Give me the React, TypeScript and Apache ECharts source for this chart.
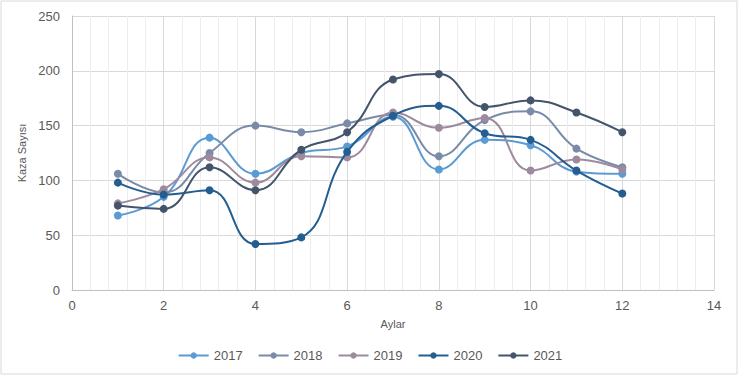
import React, { useEffect, useRef } from "react";
import * as echarts from "echarts";

const months = [1, 2, 3, 4, 5, 6, 7, 8, 9, 10, 11, 12];
const seriesNames = ["2017", "2018", "2019", "2020", "2021"];
const v2017 = [68, 85, 139, 106, 125, 131, 158, 110, 137, 132, 108, 106];
const v2018 = [106, 89, 125, 150, 144, 152, 160, 122, 155, 163, 129, 112];
const v2019 = [79, 92, 121, 98, 122, 121, 162, 148, 157, 109, 119, 110];
const v2020 = [98, 87, 91, 42, 48, 126, 159, 168, 143, 137, 109, 88];
const v2021 = [77, 74, 112, 91, 128, 144, 192, 197, 167, 173, 162, 144];
const colors = ["#5B9BD5", "#7A8BA8", "#9D8B9D", "#245E91", "#44546A"];

export default function App() {
  const ref = useRef<HTMLDivElement>(null);
  useEffect(() => {
    document.body.style.margin = "0";
    const chart = echarts.init(ref.current!, null, { renderer: "svg" });
    const all = [v2017, v2018, v2019, v2020, v2021];
    chart.setOption({
      animation: false,
      backgroundColor: "#ffffff",
      textStyle: { fontFamily: "Liberation Sans, Arial, sans-serif" },
      graphic: [
        {
          type: "rect",
          shape: { x: 1, y: 1, width: 736, height: 373 },
          style: { fill: "none", stroke: "#d9d9d9", lineWidth: 1 },
          silent: true,
        },
      ],
      grid: { left: 72, right: 26, top: 16, bottom: 87, containLabel: false },
      legend: {
        bottom: 10,
        left: "center",
        itemWidth: 30,
        itemHeight: 8,
        itemGap: 15,
        textStyle: { color: "#595959", fontSize: 13 },
        data: seriesNames,
      },
      xAxis: {
        type: "value",
        min: 0,
        max: 14,
        interval: 2,
        name: "Aylar",
        nameLocation: "middle",
        nameGap: 28,
        nameTextStyle: { color: "#595959", fontSize: 11 },
        axisLine: { show: true, lineStyle: { color: "#bfbfbf" } },
        axisTick: { show: false },
        axisLabel: { color: "#595959", fontSize: 13, margin: 9 },
        splitLine: { show: true, lineStyle: { color: "#d9d9d9" } },
        minorTick: { show: false, splitNumber: 5 },
        minorSplitLine: { show: true, lineStyle: { color: "#ededed" } },
      },
      yAxis: {
        type: "value",
        min: 0,
        max: 250,
        interval: 50,
        name: "Kaza Sayısı",
        nameLocation: "middle",
        nameGap: 38,
        nameRotate: 90,
        nameTextStyle: { color: "#595959", fontSize: 11 },
        axisLine: { show: true, lineStyle: { color: "#bfbfbf" } },
        axisTick: { show: false },
        axisLabel: { color: "#595959", fontSize: 13, margin: 12 },
        splitLine: { show: true, lineStyle: { color: "#d9d9d9" } },
      },
      series: seriesNames.map((n, i) => ({
        name: n,
        type: "line",
        smooth: 0.45,
        data: months.map((m, j) => [m, all[i][j]]),
        symbol: "circle",
        symbolSize: 8,
        lineStyle: { width: 2, color: colors[i] },
        itemStyle: { color: colors[i] },
        z: 2 + i,
      })),
    });
    return () => chart.dispose();
  }, []);
  return <div ref={ref} style={{ width: 740, height: 377 }} />;
}
